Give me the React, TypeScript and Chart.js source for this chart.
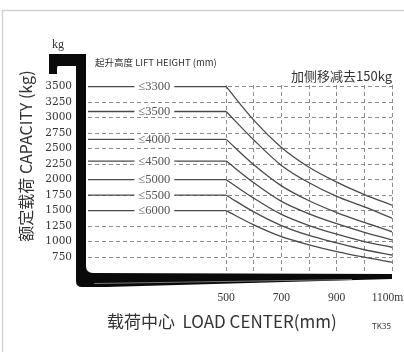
import React, { useEffect, useRef } from "react";
import { Chart, registerables } from "chart.js";

Chart.register(...registerables);

// Load centre (mm) for every point of each capacity series
const loadCenters = [0, 500, 600, 700, 800, 900, 1000, 1100];
// Lift height label for each series
const liftHeights = ["≤3300", "≤3500", "≤4000", "≤4500", "≤5000", "≤5500", "≤6000"];
// Capacity (kg) for each lift height
const cap3300 = [3500, 3500, 2960, 2520, 2200, 1960, 1760, 1590];
const cap3500 = [3100, 3100, 2640, 2230, 1950, 1730, 1560, 1380];
const cap4000 = [2650, 2650, 2240, 1900, 1660, 1470, 1310, 1160];
const cap4500 = [2300, 2300, 1950, 1650, 1450, 1290, 1150, 1030];
const cap5000 = [2000, 2000, 1700, 1440, 1260, 1120, 1000, 910];
const cap5500 = [1750, 1750, 1480, 1260, 1100, 980, 870, 785];
const cap6000 = [1500, 1500, 1270, 1080, 950, 840, 750, 670];
const capacitySeries = [cap3300, cap3500, cap4000, cap4500, cap5000, cap5500, cap6000];

const yTickValues = [750, 1000, 1250, 1500, 1750, 2000, 2250, 2500, 2750, 3000, 3250, 3500];
const xGridValues = [500, 600, 700, 800, 900, 1000, 1100];
const xTickLabels = ["500", "", "700", "", "900", "", "1100mm"];
const labelAtLoadCenter = 240;

const LINE = "#4a4a4a";
const TEXT = "#333";
const GRID = "#8c8c8c";

const decorPlugin = {
  id: "decor",
  beforeDraw(chart: any) {
    const ctx = chart.ctx;
    ctx.save();
    ctx.fillStyle = "#fff";
    ctx.fillRect(0, 0, chart.width, chart.height);
    ctx.strokeStyle = "#d2d2d2";
    ctx.lineWidth = 1.5;
    ctx.beginPath();
    ctx.moveTo(2, 10.5);
    ctx.lineTo(chart.width, 10.5);
    ctx.moveTo(2.5, 10);
    ctx.lineTo(2.5, chart.height);
    ctx.stroke();
    ctx.restore();
  },
  afterDatasetsDraw(chart: any) {
    const { ctx, chartArea: a, scales } = chart;
    const xs = scales.x;
    const ys = scales.y;
    ctx.save();
    // inline lift-height labels
    ctx.font = "12.5px 'Liberation Serif'";
    ctx.textAlign = "center";
    ctx.textBaseline = "middle";
    capacitySeries.forEach((s, i) => {
      const px = xs.getPixelForValue(labelAtLoadCenter);
      const py = ys.getPixelForValue(s[0]);
      const w = ctx.measureText(liftHeights[i]).width;
      ctx.fillStyle = "#fff";
      ctx.fillRect(px - w / 2 - 4, py - 5, w + 8, 10);
      ctx.fillStyle = "#555";
      ctx.fillText(liftHeights[i], px, py + 0.5);
    });
    // fork shape
    const L = a.left;
    const B = a.bottom;
    const x0 = L - 12;
    const x1 = L - 2;
    ctx.fillStyle = "#0a0a0a";
    ctx.beginPath();
    ctx.moveTo(L - 39, 54);
    ctx.lineTo(x1, 54);
    ctx.lineTo(x1, B - 7);
    ctx.quadraticCurveTo(x1, B, x1 + 7, B);
    ctx.lineTo(a.right, B + 1);
    ctx.lineTo(a.right, B + 6);
    ctx.lineTo(x1 + 20, B + 14);
    ctx.lineTo(x0 + 6, B + 14);
    ctx.quadraticCurveTo(x0, B + 14, x0, B + 8);
    ctx.lineTo(x0, 66);
    ctx.lineTo(L - 30, 66);
    ctx.quadraticCurveTo(L - 31, 66, L - 31, 70);
    ctx.lineTo(L - 31, 74);
    ctx.lineTo(L - 39, 74);
    ctx.closePath();
    ctx.fill();
    ctx.strokeStyle = "#777";
    ctx.lineWidth = 1;
    ctx.beginPath();
    ctx.moveTo(x1 + 8, B + 10.5);
    ctx.lineTo(a.right - 40, B + 6.5);
    ctx.stroke();
    ctx.restore();
  },
  afterDraw(chart: any) {
    const { ctx, chartArea: a } = chart;
    ctx.save();
    ctx.fillStyle = TEXT;
    ctx.textBaseline = "middle";
    ctx.textAlign = "center";
    ctx.font = "12px 'Liberation Serif'";
    ctx.fillText("kg", a.left - 30, 45);
    ctx.textAlign = "left";
    ctx.font = "9.5px 'Noto Sans CJK SC'";
    ctx.fillText("起升高度 LIFT HEIGHT (mm)", a.left + 7, 62);
    ctx.textAlign = "right";
    ctx.font = "13px 'Noto Sans CJK SC'";
    ctx.fillText("加侧移减去150kg", a.right, 76);
    ctx.textAlign = "left";
    ctx.font = "17px 'Noto Sans CJK SC'";
    ctx.fillText("载荷中心  LOAD CENTER(mm)", 107, 322);
    ctx.font = "8px 'Noto Sans CJK SC'";
    ctx.fillText("TK35", 372, 326);
    ctx.translate(26, 156);
    ctx.rotate(-Math.PI / 2);
    ctx.textAlign = "center";
    ctx.font = "16px 'Noto Sans CJK SC'";
    ctx.fillText("额定载荷 CAPACITY (kg)", 0, 0);
    ctx.restore();
  },
};

export default function App() {
  const ref = useRef<HTMLCanvasElement | null>(null);
  useEffect(() => {
    if (!ref.current) return;
    const datasets: any[] = [];
    capacitySeries.forEach((s) => {
      datasets.push({
        data: [0, 1].map((i) => ({ x: loadCenters[i], y: s[i] })),
        borderColor: LINE,
        borderWidth: 1.3,
        pointRadius: 0,
        tension: 0,
      });
      datasets.push({
        data: s.slice(1).map((v, i) => ({ x: loadCenters[i + 1], y: v })),
        borderColor: LINE,
        borderWidth: 1.3,
        pointRadius: 0,
        cubicInterpolationMode: "monotone",
      });
    });
    const chart = new Chart(ref.current, {
      type: "line",
      data: { datasets },
      plugins: [decorPlugin],
      options: {
        animation: false,
        responsive: false,
        layout: { padding: { top: 85, left: 0, right: 12, bottom: 0 } },
        plugins: { legend: { display: false }, tooltip: { enabled: false } },
        scales: {
          x: {
            type: "linear",
            min: 0,
            max: 1100,
            afterBuildTicks: (s: any) => {
              s.ticks = xGridValues.map((v) => ({ value: v }));
            },
            afterFit: (s: any) => {
              s.height = 79;
              s.paddingLeft = 0;
              s.paddingRight = 0;
            },
            grid: { color: GRID, lineWidth: 1, drawTicks: false },
            border: { display: false, dash: [4, 3] },
            ticks: {
              autoSkip: false,
              maxRotation: 0,
              padding: 18,
              color: TEXT,
              font: { family: "'Liberation Serif'", size: 11.5 },
              callback: (v: any) => {
                const i = xGridValues.indexOf(Number(v));
                return i >= 0 ? xTickLabels[i] : "";
              },
            },
          },
          y: {
            type: "linear",
            min: 495,
            max: 3527,
            afterBuildTicks: (s: any) => {
              s.ticks = yTickValues.map((v) => ({ value: v }));
            },
            afterFit: (s: any) => {
              s.width = 88;
              s.paddingTop = 0;
              s.paddingBottom = 0;
            },
            grid: { color: GRID, lineWidth: 1, drawTicks: false },
            border: { display: false, dash: [4, 3] },
            ticks: {
              autoSkip: false,
              padding: 16,
              color: TEXT,
              font: { family: "'DejaVu Serif'", size: 10.5 },
              callback: (v: any) => String(v),
            },
          },
        },
      },
    } as any);
    return () => chart.destroy();
  }, []);
  return (
    <div style={{ position: "absolute", left: 0, top: 0, width: 404, height: 352, background: "#fff" }}>
      <canvas ref={ref} width={404} height={352} style={{ display: "block" }} />
    </div>
  );
}
